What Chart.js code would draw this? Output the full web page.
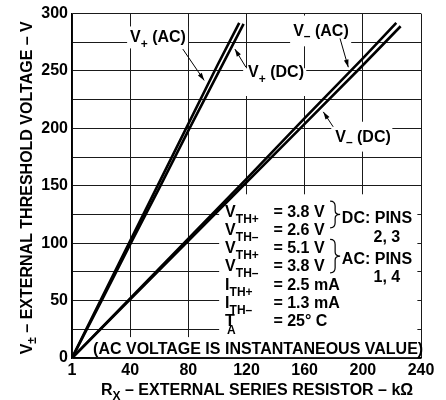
<!DOCTYPE html>
<html>
<head>
<meta charset="utf-8">
<script src="https://cdn.jsdelivr.net/npm/chart.js@4.4.1/dist/chart.umd.min.js"></script>
<style>
  html, body { margin: 0; padding: 0; background: #fff; }
</style>
</head>
<body>
<canvas id="chart" width="446" height="400"></canvas>
<script>
// threshold voltage vs series resistor
const vPlusAcR = [0, 20, 40, 60, 80, 100, 115];
const vPlusAcV = [0, 51, 102, 153, 204, 255, 292];
const vPlusDcR = [0, 20, 40, 60, 80, 100, 118];
const vPlusDcV = [0, 49, 99, 148, 198, 247, 291];
const vMinusAcR = [0, 40, 80, 120, 160, 200, 223];
const vMinusAcV = [0, 52, 104, 156, 209, 261, 292];
const vMinusDcR = [0, 40, 80, 120, 160, 200, 226];
const vMinusDcV = [0, 51, 102, 153, 204, 255, 289];

const xTickLabels = { 0: '1', 40: '40', 80: '80', 120: '120', 160: '160', 200: '200', 240: '240' };
const yTickLabels = [0, 50, 100, 150, 200, 250, 300];

const legendRows = [
  ['V', 'TH+', '= 3.8 V'],
  ['V', 'TH–', '= 2.6 V'],
  ['V', 'TH+', '= 5.1 V'],
  ['V', 'TH–', '= 3.8 V'],
  ['I', 'TH+', '= 2.5 mA'],
  ['I', 'TH–', '= 1.3 mA'],
  ['T', 'A', '= 25° C'],
];

const FONT = '"Liberation Sans", Arial, sans-serif';
const MAIN = 'bold 16px ' + FONT;
const SUB = 'bold 12px ' + FONT;

const toPts = (xs, ys) => xs.map((x, i) => ({ x: x, y: ys[i] }));

function subText(ctx, x, y, main, sub, rest, subDrop) {
  ctx.font = MAIN;
  ctx.fillText(main, x, y);
  x += ctx.measureText(main).width;
  ctx.font = SUB;
  ctx.fillText(sub, x, y + (subDrop || 5));
  x += ctx.measureText(sub).width;
  ctx.font = MAIN;
  if (rest) ctx.fillText(rest, x, y);
}

function arrow(ctx, x0, y0, x1, y1) {
  ctx.beginPath();
  ctx.moveTo(x0, y0);
  ctx.lineTo(x1, y1);
  ctx.lineWidth = 1;
  ctx.stroke();
  const a = Math.atan2(y1 - y0, x1 - x0);
  ctx.beginPath();
  ctx.moveTo(x1, y1);
  ctx.lineTo(x1 - 8 * Math.cos(a - 0.3), y1 - 8 * Math.sin(a - 0.3));
  ctx.lineTo(x1 - 8 * Math.cos(a + 0.3), y1 - 8 * Math.sin(a + 0.3));
  ctx.closePath();
  ctx.fill();
}

function brace(ctx, x, yTop, yBot) {
  const m = (yTop + yBot) / 2;
  const w = 5;
  ctx.beginPath();
  ctx.moveTo(x - w, yTop);
  ctx.quadraticCurveTo(x, yTop, x, yTop + 5);
  ctx.lineTo(x, m - 4);
  ctx.quadraticCurveTo(x, m, x + w, m);
  ctx.quadraticCurveTo(x, m, x, m + 4);
  ctx.lineTo(x, yBot - 5);
  ctx.quadraticCurveTo(x, yBot, x - w, yBot);
  ctx.lineWidth = 1.2;
  ctx.stroke();
}

// label boxes [r0, v0, r1, v1] in data units
const whiteBoxes = [
  [37.9, 288.8, 79.8, 269.7],
  [117.7, 252.4, 161.1, 228.2],
  [150, 298.3, 192, 271.5],
  [178.3, 205.8, 220.3, 179.8],
  [101.2, 142.6, 237.5, 0.8],
  [12.4, 18.2, 237.5, 0.8],
];

const notes = {
  id: 'notes',
  beforeDatasetsDraw(chart) {
    const { ctx, scales: { x, y } } = chart;
    ctx.save();
    ctx.fillStyle = '#fff';
    whiteBoxes.forEach(b => {
      const x0 = x.getPixelForValue(b[0]), x1 = x.getPixelForValue(b[2]);
      const y0 = y.getPixelForValue(b[1]), y1 = y.getPixelForValue(b[3]);
      ctx.fillRect(x0, y0, x1 - x0, y1 - y0);
    });
    ctx.restore();
  },
  afterDatasetsDraw(chart) {
    const { ctx, chartArea, scales: { x, y } } = chart;
    const px = v => x.getPixelForValue(v);
    const py = v => y.getPixelForValue(v);
    ctx.save();
    ctx.fillStyle = '#000';
    ctx.strokeStyle = '#000';
    ctx.textBaseline = 'alphabetic';
    ctx.textAlign = 'left';

    subText(ctx, px(39.9), py(275.2), 'V', '+', ' (AC)', 5.5);
    subText(ctx, px(121.1), py(244.7), 'V', '+', ' (DC)', 5.5);
    subText(ctx, px(152.1), py(280.7), 'V', '–', ' (AC)', 4);
    subText(ctx, px(181), py(188.5), 'V', '–', ' (DC)', 4);

    arrow(ctx, px(76.2), py(269.1), px(90.9), py(241.8));
    arrow(ctx, px(119.6), py(253.3), px(112), py(269.1));
    arrow(ctx, px(184.3), py(278.4), px(190), py(253.3));
    arrow(ctx, px(179.6), py(201.4), px(172.8), py(214.4));

    // conditions block
    const lx = px(105.3), ly = py(123.0), step = 18.2;
    legendRows.forEach((r, i) => {
      const by = ly + i * step;
      ctx.font = MAIN;
      ctx.fillText(r[0], lx, by);
      const mw = r[1] === 'A' ? 2 : ctx.measureText(r[0]).width;
      ctx.font = SUB;
      ctx.fillText(r[1], lx + mw, by + (r[1] === 'A' ? 8 : 6));
      ctx.font = MAIN;
      ctx.fillText(r[2], lx + 48.3, by);
    });
    brace(ctx, lx + 110, ly - 15.7, ly + 11);
    brace(ctx, lx + 110, ly + 22.6, ly + 56);
    ctx.font = MAIN;
    ctx.fillText('DC: PINS', lx + 116.7, ly + 6.6);
    ctx.fillText('AC: PINS', lx + 116.7, ly + 47.6);
    ctx.textAlign = 'center';
    ctx.fillText('2, 3', lx + 161.7, ly + 25);
    ctx.fillText('1, 4', lx + 161.7, ly + 65.3);

    ctx.textAlign = 'left';
    ctx.fillText('(AC VOLTAGE IS INSTANTANEOUS VALUE)', px(14.5), chartArea.bottom - 4);
    ctx.restore();
  },
  afterDraw(chart) {
    const { ctx, chartArea } = chart;
    ctx.save();
    ctx.fillStyle = '#000';
    ctx.textBaseline = 'alphabetic';
    // x axis title
    subText(ctx, chartArea.left + 29, chartArea.bottom + 37, 'R', 'X', ' – EXTERNAL SERIES RESISTOR – kΩ', 4.5);
    // y axis title
    ctx.translate(chartArea.left - 40, (chartArea.top + chartArea.bottom) / 2);
    ctx.rotate(-Math.PI / 2);
    ctx.font = MAIN;
    const rest = ' – EXTERNAL THRESHOLD VOLTAGE – V';
    let w = ctx.measureText('V' + rest).width;
    ctx.font = SUB;
    w += ctx.measureText('±').width;
    subText(ctx, -w / 2 - 2, 0, 'V', '±', rest, 4);
    ctx.restore();
  }
};

const lineStyle = { borderColor: '#000', borderWidth: 2.6, pointRadius: 0, tension: 0, fill: false };

new Chart(document.getElementById('chart'), {
  type: 'line',
  data: {
    datasets: [
      Object.assign({ label: 'V+ (AC)', data: toPts(vPlusAcR, vPlusAcV) }, lineStyle),
      Object.assign({ label: 'V+ (DC)', data: toPts(vPlusDcR, vPlusDcV) }, lineStyle),
      Object.assign({ label: 'V– (AC)', data: toPts(vMinusAcR, vMinusAcV) }, lineStyle),
      Object.assign({ label: 'V– (DC)', data: toPts(vMinusDcR, vMinusDcV) }, lineStyle),
    ],
  },
  options: {
    responsive: false,
    animation: false,
    devicePixelRatio: 1,
    layout: { padding: { top: 11, right: 25, left: 0, bottom: 0 } },
    plugins: { legend: { display: false }, tooltip: { enabled: false } },
    scales: {
      x: {
        type: 'linear',
        min: 0,
        max: 240,
        afterFit: s => { s.height = 42; },
        grid: { color: '#1a1a1a', lineWidth: 1, drawTicks: false },
        border: { color: '#000', width: 1.5 },
        ticks: {
          stepSize: 20,
          padding: 3,
          maxRotation: 0,
          color: '#000',
          font: { family: FONT, size: 16, weight: 'bold' },
          callback: v => xTickLabels[v] || '',
        },
      },
      y: {
        min: 0,
        max: 300,
        afterFit: s => { s.width = 72; },
        grid: { color: '#1a1a1a', lineWidth: 1, drawTicks: false },
        border: { color: '#000', width: 1.5 },
        ticks: {
          stepSize: 25,
          padding: 4,
          color: '#000',
          font: { family: FONT, size: 16, weight: 'bold' },
          callback: v => yTickLabels.includes(v) ? String(v) : '',
        },
      },
    },
  },
  plugins: [notes],
});
</script>
</body>
</html>
